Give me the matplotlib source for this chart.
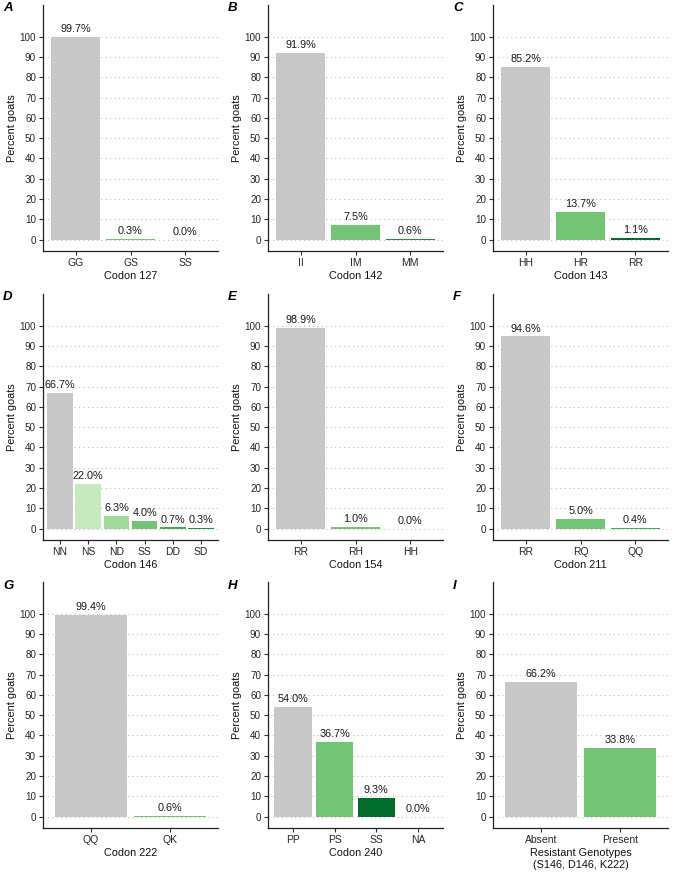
import matplotlib
matplotlib.use("Agg")
import matplotlib.pyplot as plt

plt.rcParams['font.family'] = ['Liberation Sans', 'DejaVu Sans']

# ---- data ----
letters = ["A", "B", "C", "D", "E", "F", "G", "H", "I"]
xlabels = ["Codon 127", "Codon 142", "Codon 143", "Codon 146", "Codon 154",
           "Codon 211", "Codon 222", "Codon 240",
           "Resistant Genotypes\n(S146, D146, K222)"]

cats_A = ["GG", "GS", "SS"];          vals_A = [99.7, 0.3, 0.0]
cats_B = ["II", "IM", "MM"];          vals_B = [91.9, 7.5, 0.6]
cats_C = ["HH", "HR", "RR"];          vals_C = [85.2, 13.7, 1.1]
cats_D = ["NN", "NS", "ND", "SS", "DD", "SD"]; vals_D = [66.7, 22.0, 6.3, 4.0, 0.7, 0.3]
cats_E = ["RR", "RH", "HH"];          vals_E = [98.9, 1.0, 0.0]
cats_F = ["RR", "RQ", "QQ"];          vals_F = [94.6, 5.0, 0.4]
cats_G = ["QQ", "QK"];                vals_G = [99.4, 0.6]
cats_H = ["PP", "PS", "SS", "NA"];    vals_H = [54.0, 36.7, 9.3, 0.0]
cats_I = ["Absent", "Present"];       vals_I = [66.2, 33.8]

GRAY = "#C8C8C8"
cols_A = [GRAY, "#74C476", "#006D2C"]
cols_B = [GRAY, "#74C476", "#238B45"]
cols_C = [GRAY, "#74C476", "#006D2C"]
cols_D = [GRAY, "#C7E9C0", "#A1D99B", "#74C476", "#41AB5D", "#238B45"]
cols_E = [GRAY, "#74C476", "#006D2C"]
cols_F = [GRAY, "#74C476", "#41AB5D"]
cols_G = [GRAY, "#74C476"]
cols_H = [GRAY, "#74C476", "#006D2C", "#999999"]
cols_I = [GRAY, "#74C476"]

panels = [(cats_A, vals_A, cols_A), (cats_B, vals_B, cols_B), (cats_C, vals_C, cols_C),
          (cats_D, vals_D, cols_D), (cats_E, vals_E, cols_E), (cats_F, vals_F, cols_F),
          (cats_G, vals_G, cols_G), (cats_H, vals_H, cols_H), (cats_I, vals_I, cols_I)]

W, H = 676, 875
fig = plt.figure(figsize=(W / 100, H / 100), dpi=100)

col_left = [43, 268, 493]
ax_w = 175
row_top = [5, 294, 582]
ax_h = 246
letter_y = [8, 297, 586]

for i, (cats, vals, cols) in enumerate(panels):
    r, c = divmod(i, 3)
    left = col_left[c] / W
    bottom = 1 - (row_top[r] + ax_h) / H
    ax = fig.add_axes([left, bottom, ax_w / W, ax_h / H])
    x = list(range(len(cats)))
    ax.bar(x, vals, width=0.9, color=cols, zorder=2)
    for xi, v in zip(x, vals):
        ax.annotate(f"{v:.1f}%", (xi, v), xytext=(0, 2), textcoords="offset points",
                    ha="center", va="bottom", fontsize=7.8, color="#1a1a1a", zorder=3)
    ax.set_xlim(-0.6, len(cats) - 0.4)
    ax.set_ylim(-5.5, 115.5)
    ax.set_yticks(range(0, 101, 10))
    ax.set_xticks(x)
    ax.set_xticklabels(cats)
    ax.grid(axis="y", linestyle=(0, (1, 3)), color="#C0C0C0", linewidth=0.8, zorder=0)
    ax.set_axisbelow(True)
    for s in ["top", "right"]:
        ax.spines[s].set_visible(False)
    for s in ["left", "bottom"]:
        ax.spines[s].set_linewidth(0.9)
        ax.spines[s].set_color("#222222")
    ax.tick_params(axis="both", labelcolor="#262626", length=3,
                   width=0.8, color="#333333", pad=2)
    ax.tick_params(axis="y", labelsize=7.1)
    ax.tick_params(axis="x", labelsize=7.5)
    ax.set_ylabel("Percent goats", fontsize=7.8, color="#111111")
    ax.yaxis.set_label_coords((17 - col_left[0]) / ax_w, 0.5)
    ax.set_xlabel(xlabels[i], fontsize=7.8, color="#111111", labelpad=2, linespacing=1.25)
    fig.text((col_left[c] - 40) / W, 1 - letter_y[r] / H, letters[i], fontsize=9.5,
             fontweight="bold", fontstyle="italic", ha="left", va="center")

fig.savefig("out.png", dpi=100)
